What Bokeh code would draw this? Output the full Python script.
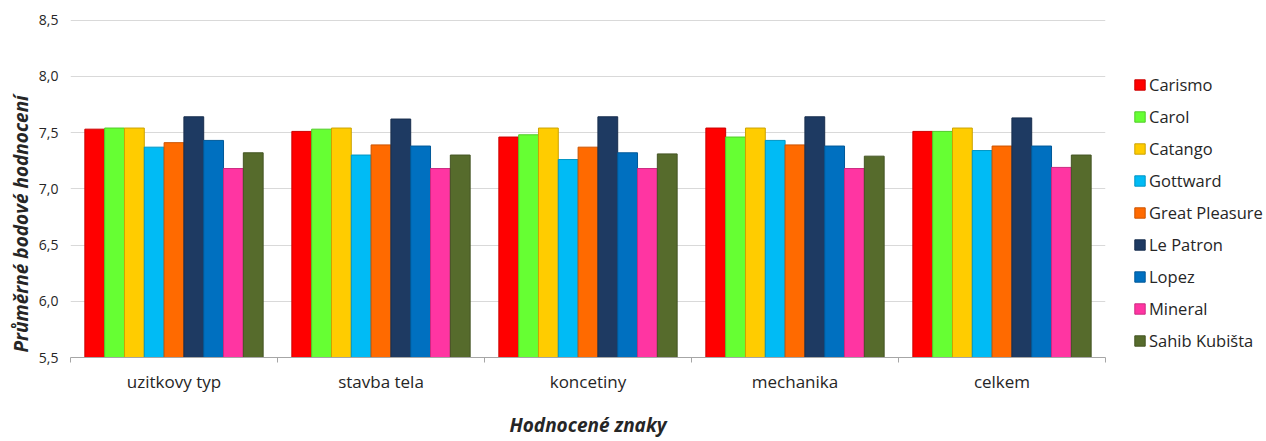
from bokeh.embed import file_html
from bokeh.models import (ColumnDataSource, CustomJSTickFormatter, FixedTicker,
                          Legend, LegendItem, Range1d, Title)
from bokeh.plotting import figure
from bokeh.resources import INLINE

# --- data -------------------------------------------------------------------
categories = ["uzitkovy typ", "stavba tela", "koncetiny", "mechanika", "celkem"]

carismo = [7.53, 7.51, 7.46, 7.54, 7.51]
carol = [7.54, 7.53, 7.48, 7.46, 7.51]
catango = [7.54, 7.54, 7.54, 7.54, 7.54]
gottward = [7.37, 7.30, 7.26, 7.43, 7.34]
great_pleasure = [7.41, 7.39, 7.37, 7.39, 7.38]
le_patron = [7.64, 7.62, 7.64, 7.64, 7.63]
lopez = [7.43, 7.38, 7.32, 7.38, 7.38]
mineral = [7.18, 7.18, 7.18, 7.18, 7.19]
sahib_kubista = [7.32, 7.30, 7.31, 7.29, 7.30]

series_names = ["Carismo", "Carol", "Catango", "Gottward", "Great Pleasure",
                "Le Patron", "Lopez", "Mineral", "Sahib Kubišta"]
series_values = [carismo, carol, catango, gottward, great_pleasure,
                 le_patron, lopez, mineral, sahib_kubista]

y_ticks = [5.5, 6.0, 6.5, 7.0, 7.5, 8.0, 8.5]

# --- styling ----------------------------------------------------------------
colors = ["#FF0000", "#66FF33", "#FFCC00", "#00BBF5", "#FF6A00",
          "#1E3A62", "#0070C0", "#FF35A2", "#566B2C"]
FONT = "Open Sans"
TEXT = "#262626"


def shade(hex_color, f):
    h = hex_color.lstrip("#")
    r, g, b = (int(h[i:i + 2], 16) for i in (0, 2, 4))
    return "#%02X%02X%02X" % (int(r * f), int(g * f), int(b * f))


p = figure(frame_width=1035, frame_height=338, output_backend="svg",
           toolbar_location=None,
           x_range=Range1d(0, len(categories)), y_range=Range1d(5.5, 8.505),
           min_border_left=70, min_border_right=161, min_border_top=19,
           min_border_bottom=84)
p.outline_line_color = None
p.background_fill_color = "white"
p.border_fill_color = "white"

# grouped bars: each category spans one unit on the x scale
n = len(series_names)
bar_w = 0.0957
items = []
for j, (name, vals) in enumerate(zip(series_names, series_values)):
    xs = [i + 0.5 + (j - (n - 1) / 2) * bar_w for i in range(len(categories))]
    src = ColumnDataSource(dict(x=xs, top=vals))
    r = p.vbar(x="x", top="top", bottom=5.5, width=bar_w, source=src,
               fill_color=colors[j], line_color=shade(colors[j], 0.8),
               line_width=1)
    items.append(LegendItem(label=name, renderers=[r]))

# y axis
p.yaxis.ticker = FixedTicker(ticks=y_ticks)
p.yaxis.formatter = CustomJSTickFormatter(code="return tick.toFixed(1).replace('.', ',')")
p.yaxis.axis_line_color = None
p.yaxis.major_tick_line_color = None
p.yaxis.minor_tick_line_color = None
p.yaxis.major_label_standoff = 6
p.yaxis.major_label_text_font = FONT
p.yaxis.major_label_text_font_size = "14px"
p.yaxis.major_label_text_color = TEXT
p.ygrid.ticker = FixedTicker(ticks=y_ticks)
p.ygrid.grid_line_color = "#D9D9D9"
p.xgrid.grid_line_color = None

# x axis: labels at group centres, ticks at group boundaries
p.xaxis.ticker = FixedTicker(ticks=[i + 0.5 for i in range(len(categories))],
                             minor_ticks=list(range(len(categories) + 1)))
p.xaxis.formatter = CustomJSTickFormatter(args=dict(labels=categories),
                                          code="return labels[Math.floor(tick)]")
p.xaxis.axis_line_color = "#A6A6A6"
p.xaxis.major_tick_line_color = None
p.xaxis.minor_tick_line_color = "#A6A6A6"
p.xaxis.minor_tick_in = 0
p.xaxis.minor_tick_out = 5
p.xaxis.major_label_standoff = 6
p.xaxis.major_label_text_font = FONT
p.xaxis.major_label_text_font_size = "17px"
p.xaxis.major_label_text_color = TEXT

# axis titles
p.add_layout(Title(text="Průměrné bodové hodnocení", align="left", offset=5,
                   standoff=3, text_font=FONT, text_font_size="19px",
                   text_font_style="bold italic", text_color=TEXT), "left")
p.add_layout(Title(text="Hodnocené znaky", align="center", standoff=28,
                   text_font=FONT, text_font_size="19px",
                   text_font_style="bold italic", text_color=TEXT), "below")

legend = Legend(items=items, location=(28, 5), orientation="vertical",
                glyph_width=13, glyph_height=13, label_height=24, spacing=8,
                label_standoff=3, padding=0, margin=0,
                label_text_font=FONT, label_text_font_size="16.5px",
                label_text_color=TEXT, border_line_color=None,
                background_fill_alpha=0)
p.add_layout(legend, "right")

open("out.html", "w").write(file_html(p, INLINE))
